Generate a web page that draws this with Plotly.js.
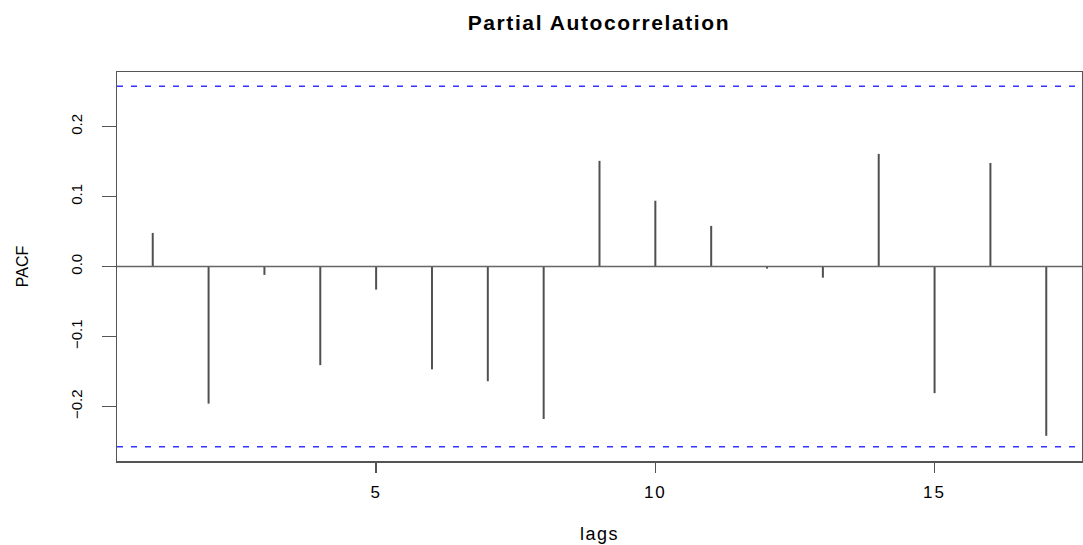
<!DOCTYPE html>
<html>
<head>
<meta charset="utf-8">
<script src="https://cdn.plot.ly/plotly-3.0.1.min.js"></script>
<style>
  html, body { margin: 0; padding: 0; background: #ffffff; }
  #chart { width: 1083px; height: 545px; }
  #chart .gtitle { letter-spacing: 1.6px; }
  #chart .xtitle { letter-spacing: 1.5px; }
  #chart .xtick text { letter-spacing: 2px; }
</style>
</head>
<body>
<div id="chart"></div>
<script>
// Data
const lags = [1, 2, 3, 4, 5, 6, 7, 8, 9, 10, 11, 12, 13, 14, 15, 16, 17];
const pacfValues = [0.048, -0.196, -0.012, -0.141, -0.033, -0.147, -0.164, -0.218,
                    0.151, 0.094, 0.058, -0.003, -0.016, 0.161, -0.181, 0.148, -0.242];
const ciLimit = 0.2575;
const xTickValues = [5, 10, 15];
const yTickValues = [-0.2, -0.1, 0, 0.1, 0.2];
const yTickLabels = ['\u22120.2', '\u22120.1', '0.0', '0.1', '0.2'];

// Build vertical spike segments from the data
const segX = [], segY = [];
lags.forEach((lag, i) => {
  segX.push(lag, lag, null);
  segY.push(0, pacfValues[i], null);
});

const traces = [
  {
    type: 'scatter', mode: 'lines',
    x: segX, y: segY,
    line: { color: '#505050', width: 2 },
    hoverinfo: 'skip', showlegend: false
  }
];

const layout = {
  width: 1083, height: 545,
  margin: { l: 117, r: 1, t: 72, b: 84 },
  paper_bgcolor: '#ffffff', plot_bgcolor: '#ffffff',
  showlegend: false,
  title: {
    text: '<b>Partial Autocorrelation</b>',
    font: { family: 'Liberation Sans, Arial, sans-serif', size: 21, color: '#000000' },
    x: 0.553, xanchor: 'center',
    y: 1 - 23 / 545, yanchor: 'middle', yref: 'container'
  },
  xaxis: {
    range: [0.36, 17.64],
    tickmode: 'array', tickvals: xTickValues, ticktext: xTickValues.map(String),
    ticks: 'outside', ticklen: 10, tickwidth: 1.5, tickcolor: '#555555',
    ticklabelstandoff: 5,
    showgrid: false, zeroline: false,
    showline: true, linecolor: '#555555', linewidth: 1.5, mirror: true,
    tickfont: { family: 'Liberation Sans, Arial, sans-serif', size: 17, color: '#000000' },
    title: { text: 'lags', standoff: 26,
             font: { family: 'Liberation Sans, Arial, sans-serif', size: 18, color: '#000000' } }
  },
  yaxis: {
    range: [-0.278, 0.278],
    tickmode: 'array', tickvals: yTickValues, ticktext: yTickLabels,
    tickangle: -90,
    ticks: 'outside', ticklen: 14, tickwidth: 1.5, tickcolor: '#555555',
    ticklabelstandoff: 14,
    showgrid: false, zeroline: false,
    showline: true, linecolor: '#555555', linewidth: 1.5, mirror: true,
    tickfont: { family: 'Liberation Sans, Arial, sans-serif', size: 15, color: '#000000' },
    title: { text: 'PACF', standoff: 35,
             font: { family: 'Liberation Sans, Arial, sans-serif', size: 16, color: '#000000' } }
  },
  shapes: [
    { type: 'line', xref: 'paper', yref: 'y', x0: 0, x1: 1, y0: 0, y1: 0,
      line: { color: '#666666', width: 1.5 } },
    { type: 'line', xref: 'paper', yref: 'y', x0: 0, x1: 1, y0: ciLimit, y1: ciLimit,
      line: { color: '#3333ff', width: 1.5, dash: '6px,8px' } },
    { type: 'line', xref: 'paper', yref: 'y', x0: 0, x1: 1, y0: -ciLimit, y1: -ciLimit,
      line: { color: '#3333ff', width: 1.5, dash: '6px,8px' } }
  ]
};

Plotly.newPlot('chart', traces, layout, { displayModeBar: false, staticPlot: true });
</script>
</body>
</html>
